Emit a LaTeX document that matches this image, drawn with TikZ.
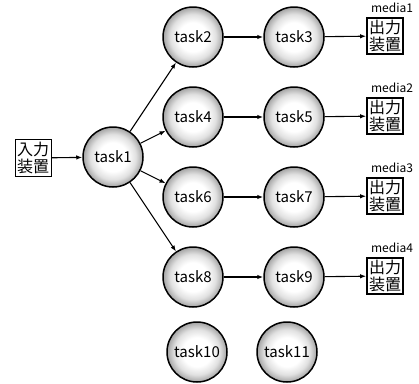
\documentclass[tikz,border=0pt]{standalone}
\usepackage{fontspec}
\setmainfont{Noto Sans CJK JP}
\usetikzlibrary{arrows.meta}
\pgfdeclareradialshading{ballshade}{\pgfpoint{0bp}{0bp}}{color(0bp)=(white); color(12bp)=(white); color(19bp)=(black!12); color(24bp)=(black!32); color(28bp)=(black!50); color(50bp)=(black!55)}
\begin{document}
\begin{tikzpicture}[x=1pt,y=-1pt,
  task/.style={circle,draw=black,line width=1.5pt,minimum size=60pt,inner sep=0pt,
    shading=ballshade,font=\fontsize{15}{17}\selectfont},
  inbox/.style={draw=black,line width=0.9pt,inner sep=2pt,align=center,
    font=\fontsize{16}{17.5}\selectfont},
  outbox/.style={draw=black,line width=2.2pt,inner sep=1.8pt,align=center,
    font=\fontsize{16}{17.5}\selectfont},
  lbl/.style={font=\fontsize{12}{13}\selectfont,inner sep=0pt},
  arr/.style={-{Latex[length=6pt,width=4.5pt]},line width=1.1pt}]
\useasboundingbox (0,0) rectangle (419,383);
\node[inbox] (in) at (33,158) {入力\\装置};
\node[task] (t1) at (113,157) {task1};
\node[task] (t2) at (193,37) {task2};
\node[task] (t3) at (294,37) {task3};
\node[task] (t4) at (193,117) {task4};
\node[task] (t5) at (294,117) {task5};
\node[task] (t6) at (193,197) {task6};
\node[task] (t7) at (294,197) {task7};
\node[task] (t8) at (193,277) {task8};
\node[task] (t9) at (294,277) {task9};
\node[task] (t10) at (197,352) {task10};
\node[task] (t11) at (287,352) {task11};
\node[outbox] (o1) at (385,36) {出力\\装置};
\node[outbox] (o2) at (385,116) {出力\\装置};
\node[outbox] (o3) at (385,196) {出力\\装置};
\node[outbox] (o4) at (385,276) {出力\\装置};
\node[lbl] (m1) at (392,8) {media1};
\node[lbl] (m2) at (392,88) {media2};
\node[lbl] (m3) at (392,168) {media3};
\node[lbl] (m4) at (392,248) {media4};
\draw[arr] (in) -- (t1);
\draw[arr] (t1) -- (t2);
\draw[arr] (t1) -- (t4);
\draw[arr] (t1) -- (t6);
\draw[arr] (t1) -- (t8);
\draw[arr] (t2) -- (t3);
\draw[arr] (t4) -- (t5);
\draw[arr] (t6) -- (t7);
\draw[arr] (t8) -- (t9);
\draw[arr] (t3) -- (o1);
\draw[arr] (t5) -- (o2);
\draw[arr] (t7) -- (o3);
\draw[arr] (t9) -- (o4);
\end{tikzpicture}
\end{document}
